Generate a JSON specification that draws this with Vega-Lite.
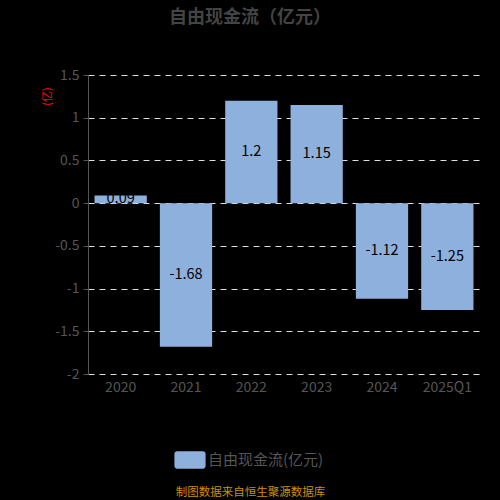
{
  "$schema": "https://vega.github.io/schema/vega-lite/v6.json",
  "autosize": "none",
  "width": 392,
  "height": 299,
  "padding": {"left": 88, "top": 75, "right": 20, "bottom": 126},
  "background": "#000000",
  "title": {
    "text": "自由现金流（亿元）",
    "color": "#444444",
    "fontSize": 18,
    "fontWeight": "bold",
    "font": "Noto Sans CJK SC",
    "dx": -34,
    "offset": 41
  },
  "config": {
    "view": {"stroke": null},
    "font": "Noto Sans CJK SC"
  },
  "data": {
    "values": [
      {"period": "2020", "value": 0.09},
      {"period": "2021", "value": -1.68},
      {"period": "2022", "value": 1.2},
      {"period": "2023", "value": 1.15},
      {"period": "2024", "value": -1.12},
      {"period": "2025Q1", "value": -1.25}
    ]
  },
  "encoding": {
    "x": {
      "field": "period",
      "type": "nominal",
      "sort": null,
      "scale": {"paddingInner": 0.2, "paddingOuter": 0.1},
      "axis": {
        "title": "制图数据来自恒生聚源数据库",
        "titleColor": "#c8900e",
        "titleFontSize": 11.5,
        "titleFontWeight": "normal",
        "titleX": 162,
        "titleY": 118,
        "titleBaseline": "middle",
        "titleAnchor": null,
        "labelAngle": 0,
        "labelColor": "#555555",
        "labelFontSize": 14,
        "labelPadding": 6,
        "domain": false,
        "ticks": false
      }
    }
  },
  "layer": [
    {
      "mark": {"type": "bar", "color": "#8eb0dc"},
      "encoding": {
        "y": {
          "field": "value",
          "type": "quantitative",
          "scale": {"domain": [-2, 1.5]},
          "axis": {
            "title": "(亿)",
            "titleColor": "#ff0000",
            "titleFontSize": 11,
            "titleFontWeight": "normal",
            "titleAnchor": null,
            "titleX": -41,
            "titleY": 21,
            "titleAlign": "center",
            "titleBaseline": "middle",
            "values": [-2, -1.5, -1, -0.5, 0, 0.5, 1, 1.5],
            "labelExpr": "datum.value + ''",
            "labelColor": "#555555",
            "labelFontSize": 14,
            "labelPadding": 4,
            "domainColor": "#555555",
            "tickColor": "#555555",
            "tickSize": 5,
            "grid": true,
            "gridColor": "#dddddd",
            "gridDash": [6, 5],
            "gridWidth": 1.2
          }
        },
        "fill": {
          "datum": "自由现金流(亿元)",
          "type": "nominal",
          "scale": {"range": ["#8eb0dc"]},
          "legend": {
            "title": null,
            "orient": "none",
            "legendX": 93,
            "legendY": 376,
            "symbolType": "M-1.5,-1H1.5A0.3,0.3 0 0 1 1.8,-0.7V0.7A0.3,0.3 0 0 1 1.5,1H-1.5A0.3,0.3 0 0 1 -1.8,0.7V-0.7A0.3,0.3 0 0 1 -1.5,-1Z",
            "symbolSize": 300,
            "symbolStrokeWidth": 0,
            "labelColor": "#555555",
            "labelFontSize": 15,
            "labelOffset": 9
          }
        }
      }
    },
    {
      "mark": {"type": "rule", "color": "#666666", "strokeWidth": 1.5},
      "encoding": {"y": {"datum": 0}}
    },
    {
      "transform": [{"calculate": "datum.value / 2", "as": "mid"}],
      "mark": {"type": "text", "color": "#000000", "fontSize": 14.5},
      "encoding": {
        "y": {"field": "mid", "type": "quantitative"},
        "text": {"field": "value", "type": "nominal"}
      }
    }
  ]
}
